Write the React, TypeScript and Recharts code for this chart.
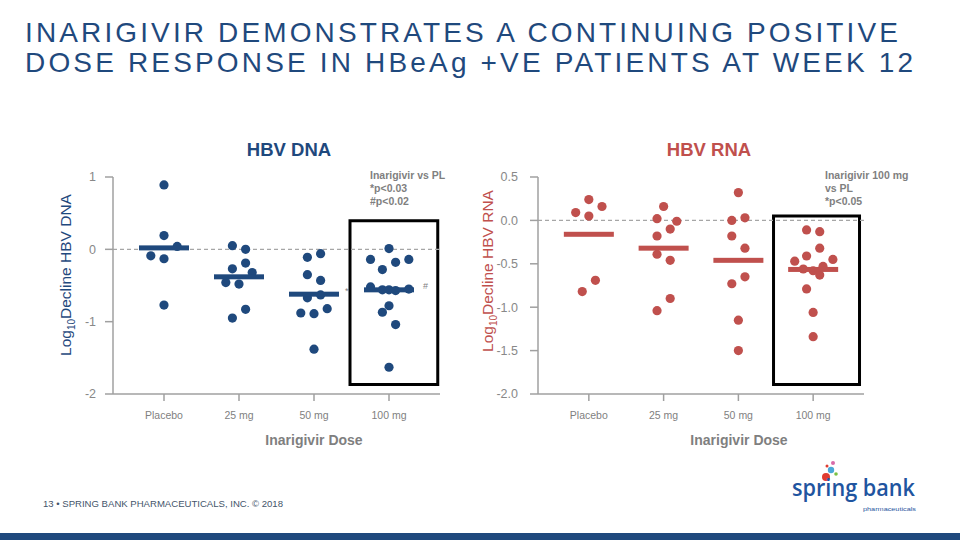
import React from 'react';
import { ScatterChart, Scatter, XAxis, YAxis, ReferenceLine, ReferenceArea } from 'recharts';

const DOSES = ['Placebo', '25 mg', '50 mg', '100 mg'];

// log10 decline per patient, grouped by dose
const DNA_VALUES = [
  [0.89, 0.19, 0.04, -0.09, -0.13, -0.77],
  [0.05, 0.0, -0.19, -0.27, -0.32, -0.46, -0.48, -0.83, -0.95],
  [-0.06, -0.11, -0.35, -0.43, -0.63, -0.67, -0.88, -0.89, -0.82, -1.38],
  [0.01, -0.14, -0.18, -0.14, -0.28, -0.52, -0.56, -0.56, -0.57, -0.55, -0.78, -0.87, -1.04, -1.63],
];
// horizontal jitter slot of each point
const DNA_SLOTS = [
  [0, 0, 2, -2, 0, 0],
  [-1, 1, 1, -1, 2, -2, 0, 1, -1],
  [1, -1, -1, 1, 1, -1, -2, 0, 2, 0],
  [0, -2.8, 1, 3, -1, -2.8, -1, 0, 1, 3, 0, -1, 1, 0],
];
const DNA_MEDIANS = [0.02, -0.38, -0.62, -0.56];
const DNA_TICKS = [-2, -1, 0, 1];

const RNA_VALUES = [
  [0.24, 0.09, 0.16, 0.05, -0.69, -0.82],
  [0.16, 0.02, -0.01, -0.1, -0.18, -0.39, -0.46, -0.9, -1.04],
  [0.32, 0.03, 0.0, -0.18, -0.32, -0.65, -0.73, -1.15, -1.5],
  [-0.11, -0.13, -0.32, -0.41, -0.47, -0.45, -0.56, -0.58, -0.53, -0.63, -0.79, -1.06, -1.34],
];
const RNA_SLOTS = [
  [0, -2, 2, 0, 1, -1],
  [0, -1, 2, 1, -1, -1, 1, 1, -1],
  [0, 1, -1, -1, 1, 1, -1, 0, 0],
  [-1, 1, 1, -1, -2.8, 3, -1.5, 0, 1.5, 1, -1, 0, 0],
];
const RNA_MEDIANS = [-0.16, -0.32, -0.46, -0.565];
const RNA_TICKS = [-2, -1.5, -1, -0.5, 0, 0.5];

const SLOT_STEP = 0.088;
const X_DOMAIN = [-0.68, 3.68];

const NAVY = '#1F497D';
const RED = '#C0504D';
const GRAY = '#7F7F7F';
const AXIS = '#A0A0A0';
const FONT = '"Liberation Sans", Arial, sans-serif';

const toPoints = (values: number[][], slots: number[][]) =>
  values.flatMap((vals, g) => vals.map((v, i) => ({ x: g + slots[g][i] * SLOT_STEP, y: v })));

const toMedians = (medians: number[]) => medians.map((m, g) => ({ x: g, y: m }));

const dotShape = (color: string) => (props: any) =>
  <circle cx={props.cx} cy={props.cy} r={4.6} fill={color} />;

const barShape = (color: string) => (props: any) =>
  <rect x={props.cx - 25} y={props.cy - 2.5} width={50} height={5} fill={color} />;

interface PanelProps {
  values: number[][];
  slots: number[][];
  medians: number[];
  ticks: number[];
  color: string;
  box: [number, number, number, number];
  decimals: number;
  marginLeft: number;
  marginRight: number;
  tickMargin: number;
}

const Panel: React.FC<PanelProps> = ({ values, slots, medians, ticks, color, box, decimals, marginLeft, marginRight, tickMargin }) => (
  <ScatterChart width={470} height={340} margin={{ top: 57, right: marginRight, left: marginLeft, bottom: 26 }}>
    <XAxis
      type="number"
      dataKey="x"
      domain={X_DOMAIN}
      ticks={[0, 1, 2, 3]}
      interval={0}
      allowDataOverflow
      tickFormatter={(v: number) => DOSES[v]}
      height={40}
      tickSize={7}
      tickMargin={11}
      axisLine={{ stroke: AXIS, strokeWidth: 1.5 }}
      tickLine={{ stroke: AXIS, strokeWidth: 1.5 }}
      tick={{ fill: GRAY, fontSize: 10.5, fontFamily: FONT }}
    />
    <YAxis
      type="number"
      dataKey="y"
      domain={[ticks[0], ticks[ticks.length - 1]]}
      ticks={ticks}
      interval={0}
      allowDataOverflow
      width={40}
      tickSize={8}
      tickMargin={tickMargin}
      tickFormatter={(v: number) => v.toFixed(decimals)}
      axisLine={{ stroke: AXIS, strokeWidth: 1.5 }}
      tickLine={{ stroke: AXIS, strokeWidth: 1.5 }}
      tick={{ fill: '#888888', fontSize: 12.5, fontFamily: FONT }}
    />
    <ReferenceLine y={0} stroke="#A6A6A6" strokeWidth={1.2} strokeDasharray="4 3" />
    <ReferenceArea x1={box[0]} x2={box[1]} y1={box[2]} y2={box[3]} fill="none" fillOpacity={0} stroke="#000" strokeWidth={3} />
    <Scatter data={toPoints(values, slots)} shape={dotShape(color)} isAnimationActive={false} />
    <Scatter data={toMedians(medians)} shape={barShape(color)} isAnimationActive={false} />
  </ScatterChart>
);

const App: React.FC = () => (
  <div style={{ position: 'absolute', left: 0, top: 0, width: 960, height: 540, background: '#fff', overflow: 'hidden', fontFamily: FONT }}>
    <svg width={960} height={540} style={{ position: 'absolute', left: 0, top: 0 }}>
      <g fill={NAVY} fontSize={28} fontFamily={FONT}>
        <text x={25} y={42} textLength={873} lengthAdjust="spacing">INARIGIVIR DEMONSTRATES A CONTINUING POSITIVE</text>
        <text x={25} y={72} textLength={888} lengthAdjust="spacing">DOSE RESPONSE IN HBeAg +VE PATIENTS AT WEEK 12</text>
      </g>

      {/* panel headings */}
      <text x={289} y={156} textAnchor="middle" fontSize={18.5} fontWeight="bold" fill={NAVY}>HBV DNA</text>
      <text x={709} y={156} textAnchor="middle" fontSize={18.5} fontWeight="bold" fill={RED}>HBV RNA</text>

      {/* y axis titles */}
      <text transform="translate(71,275) rotate(-90)" textAnchor="middle" fontSize={15.5} fill={NAVY}>
        Log<tspan fontSize={10} dy={4}>10</tspan><tspan dy={-4}>Decline HBV DNA</tspan>
      </text>
      <text transform="translate(493,271) rotate(-90)" textAnchor="middle" fontSize={15.5} fill={RED}>
        Log<tspan fontSize={10} dy={4}>10</tspan><tspan dy={-4}>Decline HBV RNA</tspan>
      </text>

      {/* x axis titles */}
      <text x={314} y={445} textAnchor="middle" fontSize={14} fontWeight="bold" fill={GRAY}>Inarigivir Dose</text>
      <text x={739} y={445} textAnchor="middle" fontSize={14} fontWeight="bold" fill={GRAY}>Inarigivir Dose</text>

      {/* significance notes */}
      <g fontSize={10.5} fontWeight="bold" fill={GRAY}>
        <text x={370} y={179}>Inarigivir vs PL</text>
        <text x={370} y={192}>*p&lt;0.03</text>
        <text x={370} y={205}>#p&lt;0.02</text>
        <text x={825} y={179}>Inarigivir 100 mg</text>
        <text x={825} y={192}>vs PL</text>
        <text x={825} y={205}>*p&lt;0.05</text>
      </g>
      <text x={345} y={294} fontSize={9} fill={GRAY}>*</text>
      <text x={423} y={289} fontSize={9} fill={GRAY}>#</text>

      {/* footer */}
      <text x={43} y={507} fontSize={9.5} fill="#44546A" textLength={240} lengthAdjust="spacingAndGlyphs">
        13  •  SPRING BANK PHARMACEUTICALS, INC.  © 2018
      </text>
      <rect x={0} y={533} width={960} height={7} fill="#1F497D" />

      {/* logo */}
      <circle cx={826} cy={477} r={4} fill="#E03C31" />
      <circle cx={831} cy={470} r={3.2} fill="#4AA8D8" />
      <circle cx={836} cy={474} r={1.8} fill="#7AC143" />
      <circle cx={833} cy={463} r={2} fill="#D86BA8" />
      <circle cx={827} cy={466} r={1.5} fill="#E03C31" />
      <text x={792} y={496} fontSize={23} fontWeight={600} fill="#1F55A0" fontFamily='"Open Sans", sans-serif' textLength={123} lengthAdjust="spacingAndGlyphs">spring bank</text>
      <text x={863} y={511} fontSize={6} fill="#1F55A0" textLength={53} lengthAdjust="spacingAndGlyphs">pharmaceuticals</text>
    </svg>

    <div style={{ position: 'absolute', left: 0, top: 120 }}>
      <Panel
        values={DNA_VALUES}
        slots={DNA_SLOTS}
        medians={DNA_MEDIANS}
        ticks={DNA_TICKS}
        color={NAVY}
        box={[2.48, 3.65, 0.395, -1.867]}
        decimals={0}
        marginLeft={73}
        marginRight={30}
        tickMargin={9}
      />
    </div>
    <div style={{ position: 'absolute', left: 470, top: 120 }}>
      <Panel
        values={RNA_VALUES}
        slots={RNA_SLOTS}
        medians={RNA_MEDIANS}
        ticks={RNA_TICKS}
        color={RED}
        box={[2.47, 3.62, 0.05, -1.89]}
        decimals={1}
        marginLeft={28}
        marginRight={76}
        tickMargin={12}
      />
    </div>
  </div>
);

export default App;
